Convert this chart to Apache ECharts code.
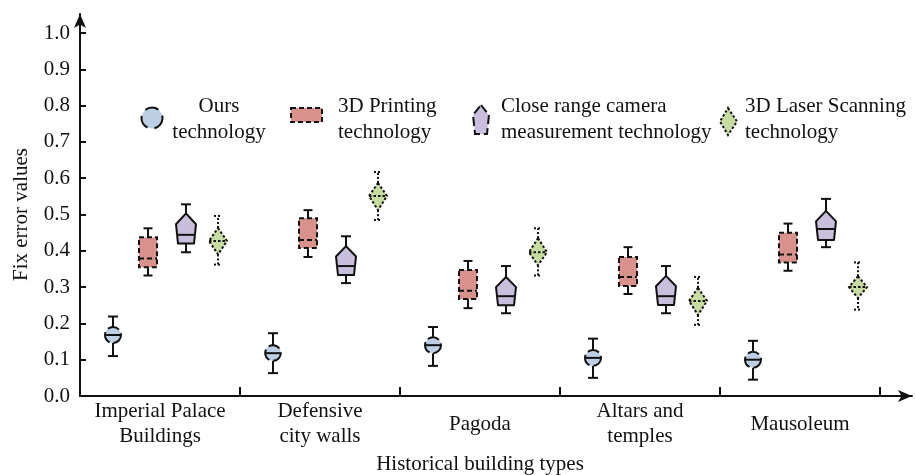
<!DOCTYPE html>
<html>
<head>
<meta charset="utf-8">
<script src="https://cdn.jsdelivr.net/npm/echarts@6/dist/echarts.min.js"></script>
<style>
  html, body { margin: 0; padding: 0; background: #fff; }
  #chart { width: 916px; height: 475px; }
</style>
</head>
<body>
<div id="chart"></div>
<script>
// Building categories along the x axis
const categories = ['Imperial Palace\nBuildings', 'Defensive\ncity walls', 'Pagoda', 'Altars and\ntemples', 'Mausoleum'];

// Series names (legend)
const seriesNames = ['Ours\ntechnology', '3D Printing\ntechnology', 'Close range camera\nmeasurement technology', '3D Laser Scanning\ntechnology'];

// Box statistics per category: [lower whisker, Q1, median, Q3, upper whisker]
const oursStats = [
  [0.110, 0.146, 0.168, 0.190, 0.219],
  [0.063, 0.097, 0.118, 0.140, 0.173],
  [0.083, 0.118, 0.140, 0.162, 0.190],
  [0.050, 0.083, 0.105, 0.127, 0.158],
  [0.045, 0.078, 0.100, 0.122, 0.152]
];
const printingStats = [
  [0.332, 0.355, 0.379, 0.437, 0.462],
  [0.383, 0.408, 0.430, 0.490, 0.512],
  [0.242, 0.267, 0.290, 0.347, 0.372],
  [0.281, 0.303, 0.328, 0.383, 0.410],
  [0.345, 0.368, 0.390, 0.450, 0.475]
];
const cameraStats = [
  [0.396, 0.420, 0.444, 0.503, 0.528],
  [0.311, 0.333, 0.358, 0.413, 0.440],
  [0.228, 0.250, 0.275, 0.328, 0.358],
  [0.228, 0.251, 0.275, 0.331, 0.358],
  [0.410, 0.430, 0.460, 0.510, 0.543]
];
const laserStats = [
  [0.362, 0.390, 0.427, 0.463, 0.496],
  [0.485, 0.512, 0.551, 0.587, 0.617],
  [0.332, 0.360, 0.396, 0.435, 0.462],
  [0.196, 0.223, 0.262, 0.298, 0.328],
  [0.238, 0.270, 0.300, 0.330, 0.368]
];

const FONT = 'Liberation Serif';
const INK = '#111';
const COLORS = ['#bccfe5', '#d9918b', '#c9bedc', '#c7dca1'];

function toData(stats) {
  return stats.map((s, i) => [i].concat(s));
}

function whiskers(x, yTop, yBottom, yHi, yLo, cap, dash) {
  const style = { stroke: INK, lineWidth: 2, lineDash: dash || null };
  return [
    { type: 'line', shape: { x1: x, y1: yTop, x2: x, y2: yHi }, style },
    { type: 'line', shape: { x1: x, y1: yBottom, x2: x, y2: yLo }, style },
    { type: 'line', shape: { x1: x - cap, y1: yHi, x2: x + cap, y2: yHi }, style },
    { type: 'line', shape: { x1: x - cap, y1: yLo, x2: x + cap, y2: yLo }, style }
  ];
}

function points(api) {
  const c = api.value(0);
  const p = [1, 2, 3, 4, 5].map(k => api.coord([c, api.value(k)])[1]);
  const x = api.coord([c, 0])[0];
  return { x, lo: p[0], q1: p[1], med: p[2], q3: p[3], hi: p[4] };
}

// Circle glyph
function renderCircle(params, api) {
  const p = points(api);
  const x = p.x - 47;
  const cy = (p.q1 + p.q3) / 2;
  const r = (p.q1 - p.q3) / 2;
  const dy = p.med - cy;
  const half = Math.sqrt(Math.max(r * r - dy * dy, 0));
  return {
    type: 'group',
    children: whiskers(x, p.q3, p.q1, p.hi, p.lo, 5).concat([
      { type: 'circle', shape: { cx: x, cy: cy, r: r },
        style: { fill: COLORS[0], stroke: INK, lineWidth: 2, lineDash: [12, 4] } },
      { type: 'line', shape: { x1: x - half, y1: p.med, x2: x + half, y2: p.med },
        style: { stroke: INK, lineWidth: 2 } }
    ])
  };
}

// Rectangle glyph
function renderRect(params, api) {
  const p = points(api);
  const x = p.x - 12;
  const hw = 9;
  return {
    type: 'group',
    children: whiskers(x, p.q3, p.q1, p.hi, p.lo, 4.5).concat([
      { type: 'rect', shape: { x: x - hw, y: p.q3, width: hw * 2, height: p.q1 - p.q3 },
        style: { fill: COLORS[1], stroke: INK, lineWidth: 2, lineDash: [5, 3] } },
      { type: 'line', shape: { x1: x - hw, y1: p.med, x2: x + hw, y2: p.med },
        style: { stroke: INK, lineWidth: 2, lineDash: [5, 3] } }
    ])
  };
}

// Pentagon glyph
function renderPentagon(params, api) {
  const p = points(api);
  const x = p.x + 26;
  const h = p.q1 - p.q3;
  const ys = p.q3 + h * 0.36;
  const wTop = 10, wBot = 8;
  const t = Math.max(0, (p.med - ys) / (p.q1 - ys));
  const wm = p.med >= ys ? wTop + (wBot - wTop) * t : wTop * (p.med - p.q3) / (ys - p.q3);
  return {
    type: 'group',
    children: whiskers(x, p.q3, p.q1, p.hi, p.lo, 5).concat([
      { type: 'polygon',
        shape: { points: [[x, p.q3], [x + wTop, ys], [x + wBot, p.q1], [x - wBot, p.q1], [x - wTop, ys]] },
        style: { fill: COLORS[2], stroke: INK, lineWidth: 2, lineJoin: 'round' } },
      { type: 'line', shape: { x1: x - wm, y1: p.med, x2: x + wm, y2: p.med },
        style: { stroke: INK, lineWidth: 2 } }
    ])
  };
}

// Diamond glyph
function renderDiamond(params, api) {
  const p = points(api);
  const x = p.x + 58;
  const hw = 9;
  return {
    type: 'group',
    children: whiskers(x, p.q3, p.q1, p.hi, p.lo, 4, [2, 2]).concat([
      { type: 'polygon',
        shape: { points: [[x, p.q3], [x + hw, p.med], [x, p.q1], [x - hw, p.med]] },
        style: { fill: COLORS[3], stroke: INK, lineWidth: 2, lineDash: [2.5, 2] } },
      { type: 'line', shape: { x1: x - hw, y1: p.med, x2: x + hw, y2: p.med },
        style: { stroke: INK, lineWidth: 2, lineDash: [2.5, 2] } }
    ])
  };
}

function boxSeries(name, stats, renderItem) {
  return {
    type: 'custom',
    name: name,
    xAxisIndex: 0,
    yAxisIndex: 0,
    renderItem: renderItem,
    encode: { x: 0, y: [1, 2, 3, 4, 5] },
    data: toData(stats),
    silent: true
  };
}

const textStyle = { fontFamily: FONT, fontSize: 21, fill: INK };

// Legend drawn as glyphs + two-line captions
const legendGraphics = [
  { type: 'circle', shape: { cx: 152, cy: 118, r: 10.5 },
    style: { fill: COLORS[0], stroke: INK, lineWidth: 2, lineDash: [14, 7] } },
  { type: 'text', x: 219, y: 119,
    style: Object.assign({ text: seriesNames[0], align: 'center', verticalAlign: 'middle', lineHeight: 26 }, textStyle) },
  { type: 'rect', shape: { x: 291, y: 108, width: 31, height: 14 },
    style: { fill: COLORS[1], stroke: INK, lineWidth: 2, lineDash: [5, 3] } },
  { type: 'text', x: 338, y: 119,
    style: Object.assign({ text: seriesNames[1], align: 'left', verticalAlign: 'middle', lineHeight: 26 }, textStyle) },
  { type: 'polygon', shape: { points: [[481, 105], [489, 115], [487, 134], [475, 134], [473, 115]] },
    style: { fill: COLORS[2], stroke: INK, lineWidth: 2, lineDash: [9, 4] } },
  { type: 'text', x: 501, y: 119,
    style: Object.assign({ text: seriesNames[2], align: 'left', verticalAlign: 'middle', lineHeight: 26 }, textStyle) },
  { type: 'polygon', shape: { points: [[728, 108], [737, 121.5], [728, 135], [720, 121.5]] },
    style: { fill: COLORS[3], stroke: INK, lineWidth: 2, lineDash: [2.5, 2] } },
  { type: 'text', x: 745, y: 119,
    style: Object.assign({ text: seriesNames[3], align: 'left', verticalAlign: 'middle', lineHeight: 26 }, textStyle) }
];

const chart = echarts.init(document.getElementById('chart'), null, { renderer: 'canvas' });

chart.setOption({
  animation: false,
  backgroundColor: '#fff',
  textStyle: { fontFamily: FONT, color: INK },
  grid: [
    { left: 80, right: 36, top: 33, bottom: 79, containLabel: false, outerBoundsMode: 'none' },
    // wider frame carrying the arrowed axis lines
    { left: 80, right: 4, top: 14, bottom: 79, containLabel: false, outerBoundsMode: 'none' }
  ],
  xAxis: [
    {
      type: 'category',
      gridIndex: 0,
      data: categories,
      boundaryGap: true,
      name: 'Historical building types',
      nameLocation: 'middle',
      nameGap: 57,
      nameTextStyle: { fontFamily: FONT, fontSize: 21, color: INK },
      axisLine: { show: false },
      axisTick: { show: true, inside: true, length: 9, lineStyle: { color: INK, width: 2 } },
      axisLabel: { fontFamily: FONT, fontSize: 21, color: INK, lineHeight: 25, margin: 28, verticalAlign: 'middle', interval: 0 },
      splitLine: { show: false }
    },
    {
      type: 'value',
      gridIndex: 1,
      min: 0, max: 1,
      axisLine: { show: true, symbol: ['none', 'arrow'], symbolSize: [9, 14], lineStyle: { color: INK, width: 2 } },
      axisTick: { show: false }, axisLabel: { show: false }, splitLine: { show: false }
    }
  ],
  yAxis: [
    {
      type: 'value',
      gridIndex: 0,
      min: 0, max: 1, interval: 0.1,
      name: 'Fix error values',
      nameLocation: 'middle',
      nameRotate: 90,
      nameGap: 48,
      nameTextStyle: { fontFamily: FONT, fontSize: 21, color: INK },
      axisLine: { show: false },
      axisTick: { show: true, inside: true, length: 6, lineStyle: { color: INK, width: 2 } },
      axisLabel: { fontFamily: FONT, fontSize: 21, color: INK, margin: 10, formatter: v => v.toFixed(1) },
      splitLine: { show: false }
    },
    {
      type: 'value',
      gridIndex: 1,
      min: 0, max: 1,
      axisLine: { show: true, symbol: ['none', 'arrow'], symbolSize: [9, 14], lineStyle: { color: INK, width: 2 } },
      axisTick: { show: false }, axisLabel: { show: false }, splitLine: { show: false }
    }
  ],
  series: [
    boxSeries(seriesNames[0], oursStats, renderCircle),
    boxSeries(seriesNames[1], printingStats, renderRect),
    boxSeries(seriesNames[2], cameraStats, renderPentagon),
    boxSeries(seriesNames[3], laserStats, renderDiamond)
  ],
  graphic: legendGraphics
});
</script>
</body>
</html>
